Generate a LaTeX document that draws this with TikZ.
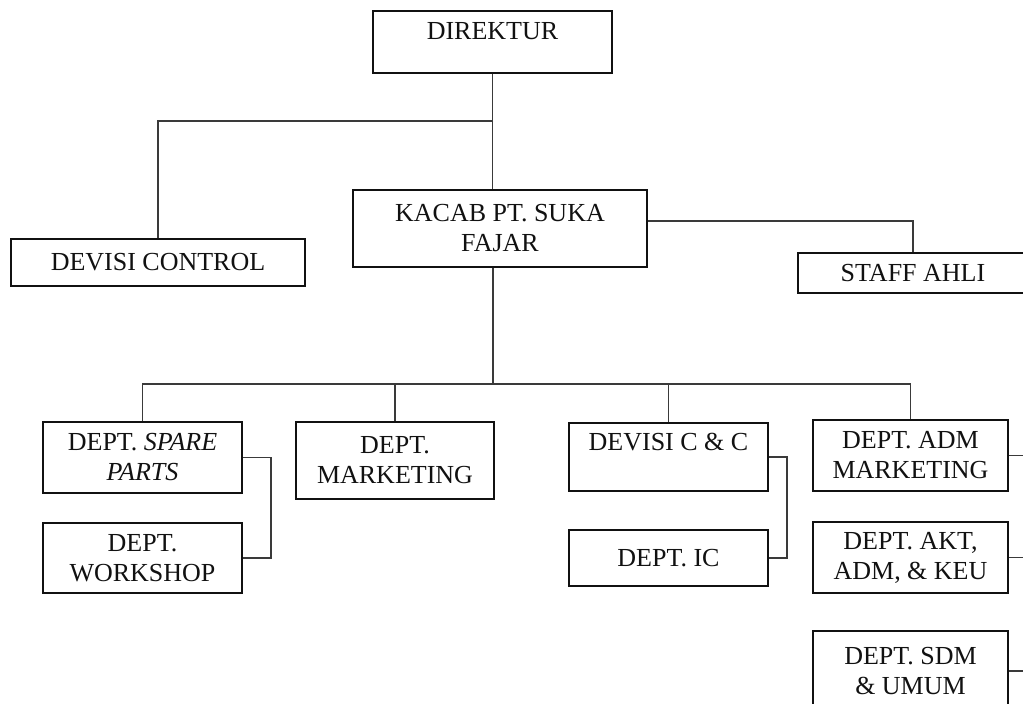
\documentclass[tikz,border=0pt]{standalone}
\usepackage{fontspec}
\setmainfont{Liberation Serif}
\usepackage{xcolor}
\usepackage{tikz}
\usetikzlibrary{positioning,calc}
\definecolor{orgink}{HTML}{111111}
\definecolor{orgline}{HTML}{3A3A3A}
\tikzset{
  unit/.style={rectangle,draw=orgink,line width=0.7pt,fill=white,inner sep=0pt,
               align=center,font=\fontsize{13}{15}\selectfont,text=orgink},
  heavy/.style={unit,line width=1.1pt},
  boxsize/.style 2 args={minimum width=#1*0.5pt,minimum height=#2*0.5pt},
  link/.style={line width=0.8pt,draw=orgline},
}
\begin{document}
\begin{tikzpicture}[x=0.5pt,y=-0.5pt]
  \clip (0,0) rectangle (1023,704);
  \fill[white] (0,0) rectangle (1023,704);
  \node[unit,boxsize={239}{62}] (dir) at (492.5,42) {DIREKTUR\\[-4pt]~};
  \node[heavy,boxsize={294}{77}] (kacab) at (500,228.5) {KACAB PT. SUKA\\FAJAR};
  \node[heavy,boxsize={294}{47}] (ctrl) at (158,262.5) {DEVISI CONTROL};
  \node[unit,boxsize={230}{40}] (staff) at (913,273) {STAFF AHLI};
  \node[unit,boxsize={199}{71}] (spare) at (142.5,457.5) {DEPT. \textit{SPARE}\\\textit{PARTS}};
  \node[unit,boxsize={199}{70}] (work) at (142.5,558) {DEPT.\\WORKSHOP};
  \node[unit,boxsize={198}{77}] (mkt) at (395,460.5) {DEPT.\\MARKETING};
  \node[unit,boxsize={199}{68}] (cc) at (668.5,457) {DEVISI C \& C\\~};
  \node[unit,boxsize={199}{56}] (ic) at (668.5,558) {DEPT. IC};
  \node[unit,boxsize={195}{71}] (adm) at (910.5,455.5) {DEPT. ADM\\MARKETING};
  \node[unit,boxsize={195}{71}] (akt) at (910.5,557.5) {DEPT. AKT,\\ADM, \& KEU};
  \node[unit,boxsize={195}{80}] (sdm) at (910.5,671) {DEPT. SDM\\\& UMUM};
  \coordinate (top bus) at (493,121);
  \coordinate (low bus) at (493,384);
  \coordinate (right bus) at (1040,0);
  \draw[link] (dir.south) -- (dir.south |- kacab.north);
  \draw[link] (top bus) -| (ctrl.north);
  \draw[link] ($(kacab.east)+(0,-7.5)$) -| (staff.north);
  \draw[link] (kacab.south -| low bus) -- (low bus);
  \draw[link] (spare.north) |- (low bus) -| (adm.north);
  \draw[link] (mkt.north) -- (mkt.north |- low bus);
  \draw[link] (cc.north) -- (cc.north |- low bus);
  \draw[link] (spare.east) -- ++(28,0) |- (work.east);
  \draw[link] (cc.east) -- ++(18,0) |- (ic.east);
  \draw[link] (adm.east) -- (adm.east -| right bus);
  \draw[link] (akt.east) -- (akt.east -| right bus);
  \draw[link] (sdm.east) -- (sdm.east -| right bus);
\end{tikzpicture}
\end{document}
